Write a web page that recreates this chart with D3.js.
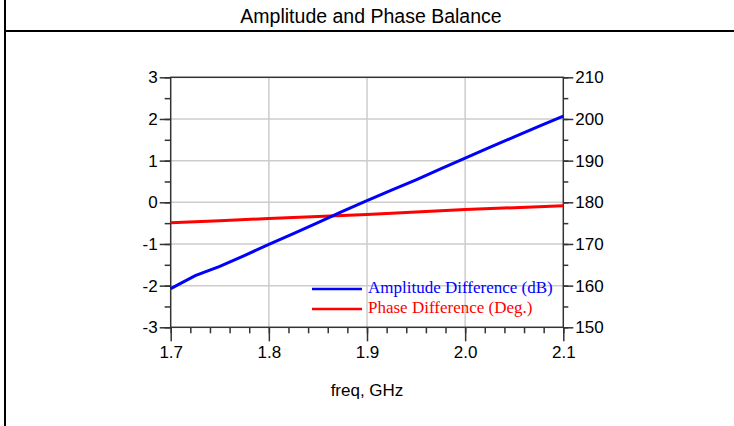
<!DOCTYPE html>
<html><head><meta charset="utf-8">
<script src="https://cdn.jsdelivr.net/npm/d3@7"></script>
<style>body{margin:0;background:#fff}svg{display:block}</style>
</head><body>
<svg id="c" width="734" height="426"></svg>
<script>
const title = "Amplitude and Phase Balance";
const xLabel = "freq, GHz";
const freq = [1.7,1.725,1.75,1.775,1.8,1.825,1.85,1.875,1.9,1.925,1.95,1.975,2.0,2.025,2.05,2.075,2.1];
const ampDiff = [-2.07,-1.76,-1.54,-1.28,-1.01,-0.75,-0.49,-0.22,0.04,0.29,0.54,0.80,1.06,1.32,1.57,1.82,2.07];
const phaseFreq = [1.7,1.75,1.8,1.85,1.9,1.95,2.0,2.05,2.1];
const phaseDiff = [175.1,175.6,176.1,176.6,177.1,177.7,178.3,178.7,179.2];
const xTicks = [1.7,1.8,1.9,2.0,2.1];
const yLeftTicks = [-3,-2,-1,0,1,2,3];
const yRightTicks = [150,160,170,180,190,200,210];
const legendLabels = ["Amplitude Difference (dB)","Phase Difference (Deg.)"];
const colors = ["#0000ff","#ff0000"];

const svg = d3.select("#c");
const L=170.7, R=563.3, T=77.3, B=327.3;
const x = d3.scaleLinear().domain([1.7,2.1]).range([L,R]);
const yL = d3.scaleLinear().domain([-3,3]).range([B,T]);
const yR = d3.scaleLinear().domain([150,210]).range([B,T]);

// frame
svg.append("line").attr("x1",5).attr("x2",5).attr("y1",0).attr("y2",426).attr("stroke","#000").attr("stroke-width",2);
svg.append("line").attr("x1",4).attr("x2",734).attr("y1",31).attr("y2",31).attr("stroke","#000").attr("stroke-width",2);
svg.append("text").attr("x",371).attr("y",23).attr("text-anchor","middle")
  .attr("font-family","Liberation Sans, Arial").attr("font-size",19.5).text(title);

// grid
const g = svg.append("g").attr("stroke","#cccccc").attr("stroke-width",1.5);
xTicks.slice(1,-1).forEach(v=>g.append("line").attr("x1",x(v)).attr("x2",x(v)).attr("y1",T).attr("y2",B));
yLeftTicks.slice(1,-1).forEach(v=>g.append("line").attr("x1",L).attr("x2",R).attr("y1",yL(v)).attr("y2",yL(v)));

const axisColor="#333";
function styleAxis(sel){
  sel.select(".domain").remove();
  sel.selectAll("line").attr("stroke",axisColor).attr("stroke-width",1.5);
  sel.selectAll("text").attr("font-family","Liberation Sans, Arial").attr("font-size",17).attr("fill","#000");
}
const hy = f => d => f(d).replace("\u2212","-");
// minor ticks
const xMinor = d3.range(1.7,2.1001,0.02).map(v=>+v.toFixed(2));
svg.append("g").attr("transform",`translate(0,${B})`)
  .call(d3.axisBottom(x).tickValues(xMinor).tickSize(6).tickFormat("")).call(styleAxis);
svg.append("g").attr("transform",`translate(${L},0)`)
  .call(d3.axisLeft(yL).tickValues(d3.range(-3,3.01,0.5)).tickSize(6).tickFormat("")).call(styleAxis);
svg.append("g").attr("transform",`translate(${R},0)`)
  .call(d3.axisRight(yR).tickValues(d3.range(150,210.01,5)).tickSize(5).tickFormat("")).call(styleAxis);
// major ticks
svg.append("g").attr("transform",`translate(0,${B})`)
  .call(d3.axisBottom(x).tickValues(xTicks).tickSize(14).tickPadding(5).tickFormat(d3.format(".1f"))).call(styleAxis);
svg.append("g").attr("transform",`translate(${L},0)`)
  .call(d3.axisLeft(yL).tickValues(yLeftTicks).tickSize(11).tickPadding(2).tickFormat(hy(d3.format("d")))).call(styleAxis);
svg.append("g").attr("transform",`translate(${R},0)`)
  .call(d3.axisRight(yR).tickValues(yRightTicks).tickSize(10).tickPadding(2).tickFormat(d3.format("d"))).call(styleAxis);

// plot box
svg.append("rect").attr("x",L).attr("y",T).attr("width",R-L).attr("height",B-T)
  .attr("fill","none").attr("stroke",axisColor).attr("stroke-width",1.5);

svg.append("text").attr("x",(L+R)/2).attr("y",396).attr("text-anchor","middle")
  .attr("font-family","Liberation Sans, Arial").attr("font-size",17).attr("font-weight",500).text(xLabel);

// data
const lineA = d3.line().x((d,i)=>x(freq[i])).y(d=>yL(d));
const lineP = d3.line().x((d,i)=>x(phaseFreq[i])).y(d=>yR(d));
svg.append("path").attr("d",lineP(phaseDiff)).attr("fill","none").attr("stroke",colors[1]).attr("stroke-width",3);
svg.append("path").attr("d",lineA(ampDiff)).attr("fill","none").attr("stroke",colors[0]).attr("stroke-width",3);

// legend
legendLabels.forEach((t,i)=>{
  const ly = 289 + i*20;
  svg.append("line").attr("x1",312).attr("x2",362).attr("y1",ly).attr("y2",ly).attr("stroke",colors[i]).attr("stroke-width",2.5);
  svg.append("text").attr("x",368).attr("y",ly+4).attr("font-family","Liberation Serif, Times New Roman").attr("font-size",17).attr("fill",colors[i]).text(t);
});
</script>
</body></html>
